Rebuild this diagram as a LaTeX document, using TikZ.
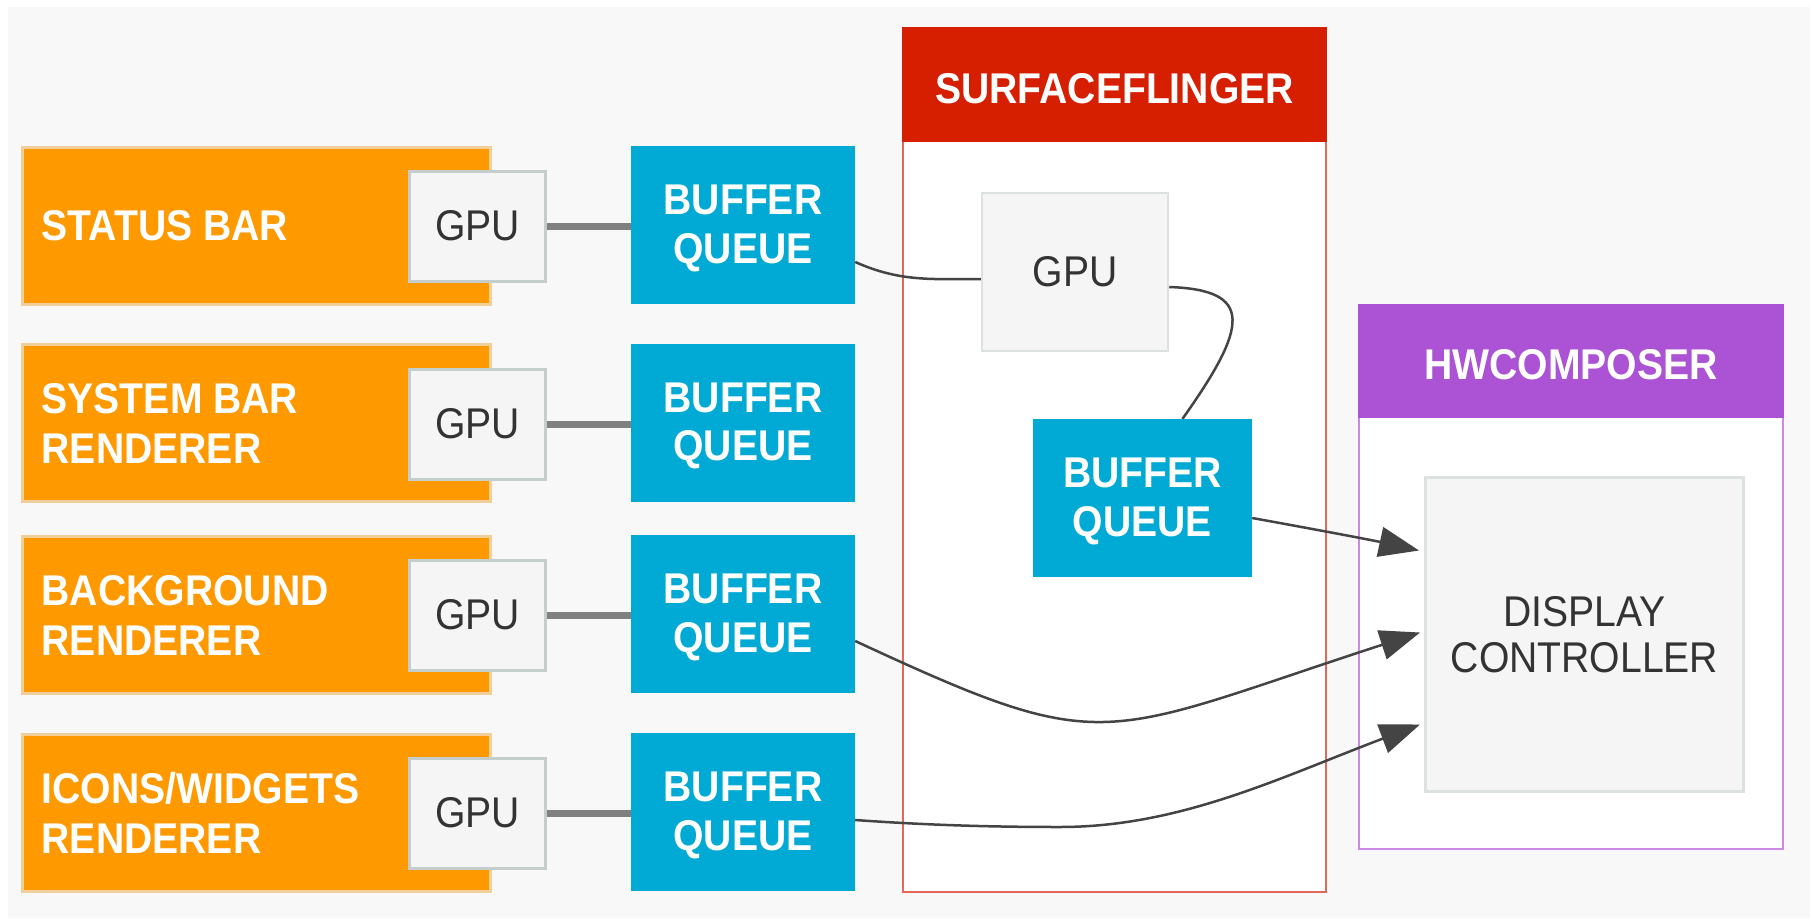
\documentclass[tikz,border=0pt]{standalone}
\usepackage{fontspec}
\setmainfont{Liberation Sans}[FakeStretch=0.91]
\usetikzlibrary{arrows.meta,calc}

\definecolor{canvas}{HTML}{F8F8F8}
\definecolor{appfill}{HTML}{FF9900}
\definecolor{appedge}{HTML}{F1CF9B}
\definecolor{gpufill}{HTML}{F5F5F5}
\definecolor{gpuedge}{HTML}{C4CECC}
\definecolor{softedge}{HTML}{DCE2E2}
\definecolor{queuefill}{HTML}{00AAD4}
\definecolor{sfred}{HTML}{D61E00}
\definecolor{sfedge}{HTML}{E2695A}
\definecolor{hwcfill}{HTML}{AB52D5}
\definecolor{hwcedge}{HTML}{C98BE6}
\definecolor{ink}{HTML}{333333}
\definecolor{wirec}{HTML}{808080}
\definecolor{flowc}{HTML}{444444}

\tikzset{
  boldtxt/.style={font=\fontsize{43bp}{50bp}\selectfont\bfseries, text=white},
  app/.style={fill=appfill, draw=appedge, line width=3bp,
    minimum width=468bp, minimum height=157bp, inner sep=0pt},
  applabel/.style={boldtxt, align=left, inner sep=0pt},
  gpubox/.style={fill=gpufill, draw=gpuedge, line width=3bp,
    minimum width=136bp, minimum height=110bp, inner sep=0pt,
    font=\fontsize{43bp}{50bp}\selectfont, text=ink},
  queue/.style={fill=queuefill, minimum width=224bp, minimum height=158bp,
    inner sep=0pt},
  queuetext/.style={inner sep=0pt, align=center, text=white,
    font=\fontsize{43bp}{48.5bp}\selectfont\bfseries},
  softbox/.style={fill=gpufill, draw=softedge, inner sep=0pt,
    font=\fontsize{43bp}{46bp}\selectfont, text=ink, align=center},
  panelhead/.style={inner sep=0pt, boldtxt, text height=37bp, text depth=0pt},
  wire/.style={draw=wirec, line width=7bp},
  flow/.style={draw=flowc, line width=2.5bp},
  tipped/.style={flow, -{Triangle[length=40bp,width=30bp]}},
}

\begin{document}
\begin{tikzpicture}[x=1bp,y=-1bp]
\useasboundingbox (0,0) rectangle (1810,918);
\fill[white] (0,0) rectangle (1810,918);
\fill[canvas] (8,7) rectangle (1810,918);

% application layers
\node[app] (sb)    at (256.5,226) {};
\node[app] (sysb)  at (256.5,423) {};
\node[app] (bg)    at (256.5,615) {};
\node[app] (icons) at (256.5,813) {};

\node[applabel, anchor=west] (sbL)    at ($(sb.west)+(20.5,0)$)    {STATUS BAR};
\node[applabel, anchor=west] (sysbL)  at ($(sysb.west)+(20.5,0)$)  {SYSTEM BAR\\RENDERER};
\node[applabel, anchor=west] (bgL)    at ($(bg.west)+(20.5,0)$)    {BACKGROUND\\RENDERER};
\node[applabel, anchor=west] (iconsL) at ($(icons.west)+(20.5,0)$) {ICONS/WIDGETS\\RENDERER};

% per-layer GPU
\node[gpubox] (g1) at (477.5,226) {GPU};
\node[gpubox] (g2) at (477.5,424) {GPU};
\node[gpubox] (g3) at (477.5,615) {GPU};
\node[gpubox] (g4) at (477.5,813) {GPU};

% per-layer buffer queues
\node[queue] (q1) at (743,225)   {};
\node[queue] (q2) at (743,422.5) {};
\node[queue] (q3) at (743,614)   {};
\node[queue] (q4) at (743,812)   {};
\node[queuetext] (q1t) at ($(q1)+(0,3.5)$) {BUFFER\\QUEUE};
\node[queuetext] (q2t) at ($(q2)+(0,3.5)$) {BUFFER\\QUEUE};
\node[queuetext] (q3t) at ($(q3)+(0,3.5)$) {BUFFER\\QUEUE};
\node[queuetext] (q4t) at ($(q4)+(0,3.5)$) {BUFFER\\QUEUE};

\draw[wire] (g1.east) -- (g1.east -| q1.west);
\draw[wire] (g2.east) -- (g2.east -| q2.west);
\draw[wire] (g3.east) -- (g3.east -| q3.west);
\draw[wire] (g4.east) -- (g4.east -| q4.west);

% SurfaceFlinger panel
\node[fill=white, draw=sfedge, line width=2.5bp, inner sep=0pt,
      minimum width=423bp, minimum height=864bp] (sf) at (1114.5,460) {};
\node[panelhead, fill=sfred, minimum width=425bp, minimum height=115bp]
      (sfh) at (1114.5,84.5) {SURFACEFLINGER};
\node[softbox, line width=2.5bp, minimum width=186bp, minimum height=158bp]
      (sfg) at (1075,272) {GPU};
\node[queue, minimum width=219bp] (sfq) at (1142.5,498) {};
\node[queuetext] (sfqt) at ($(sfq)+(0,3.5)$) {BUFFER\\QUEUE};

% HWComposer panel
\node[fill=white, draw=hwcedge, line width=2.5bp, inner sep=0pt,
      minimum width=424bp, minimum height=544bp] (hwc) at (1571,577) {};
\node[panelhead, fill=hwcfill, minimum width=426bp, minimum height=114bp]
      (hwch) at (1571,361) {HWCOMPOSER};
\node[softbox, line width=3bp, minimum width=318bp, minimum height=314bp]
      (dc) at (1584.5,634.5) {DISPLAY\\CONTROLLER};

% buffer flow
\coordinate (bend) at (1060,827);
\draw[flow] ($(q1.east)+(0,37)$) .. controls +(45,20) and +(-50,0) .. ($(sfg.west)+(0,7)$);
\draw[flow] ($(sfg.east)+(0,15)$) .. controls +(85,3) and +(66,-93) .. ($(sfq.north)+(40,0)$);
\draw[tipped] ($(sfq.east)+(0,20)$) .. controls +(50,9) and +(-50,-11) .. ($(dc.west)+(-5,-84)$);
\draw[tipped] ($(q3.east)+(0,27)$) .. controls +(254,118) and +(-323,105) .. ($(dc.west)+(-4,-2)$);
\draw[tipped] ($(q4.east)+(0,8)$) .. controls +(70,5) and +(-70,0) .. (bend)
   .. controls +(120,0) and +(-140,53) .. ($(dc.west)+(-4,90)$);
\end{tikzpicture}
\end{document}
